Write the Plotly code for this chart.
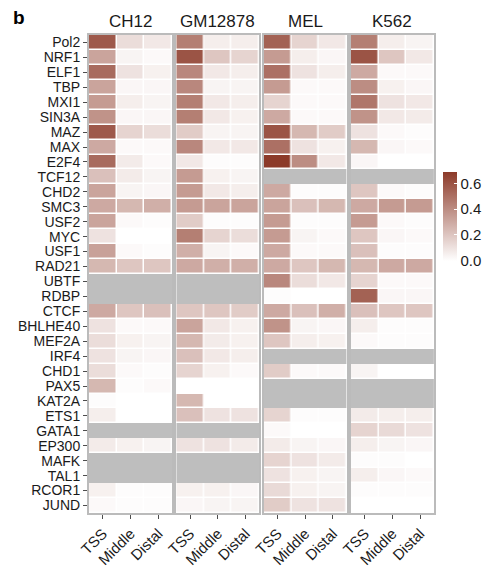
import plotly.graph_objects as go
from plotly.subplots import make_subplots

N = None  # no data for this factor in this cell line

factors = ["Pol2", "NRF1", "ELF1", "TBP", "MXI1", "SIN3A", "MAZ", "MAX", "E2F4",
           "TCF12", "CHD2", "SMC3", "USF2", "MYC", "USF1", "RAD21", "UBTF", "RDBP",
           "CTCF", "BHLHE40", "MEF2A", "IRF4", "CHD1", "PAX5", "KAT2A", "ETS1",
           "GATA1", "EP300", "MAFK", "TAL1", "RCOR1", "JUND"]
regions = ["TSS", "Middle", "Distal"]
cell_lines = ["CH12", "GM12878", "MEL", "K562"]

ch12_tss = [0.58, 0.32, 0.52, 0.32, 0.35, 0.38, 0.58, 0.30, 0.52, 0.22, 0.32, 0.30, 0.32, 0.10, 0.33, 0.25,
            N, N, 0.30, 0.10, 0.12, 0.10, 0.12, 0.25, 0.01, 0.06, N, 0.07, N, N, 0.05, 0.02]
ch12_middle = [0.12, 0.04, 0.10, 0.03, 0.06, 0.03, 0.15, 0.02, 0.07, 0.07, 0.04, 0.25, 0.02, 0.00, 0.02, 0.20,
               N, N, 0.20, 0.02, 0.05, 0.04, 0.02, 0.01, 0.00, 0.00, N, 0.05, N, N, 0.01, 0.01]
ch12_distal = [0.08, 0.02, 0.05, 0.03, 0.04, 0.03, 0.12, 0.02, 0.02, 0.04, 0.03, 0.28, 0.01, 0.00, 0.01, 0.20,
               N, N, 0.22, 0.02, 0.04, 0.03, 0.01, 0.02, 0.00, 0.00, N, 0.04, N, N, 0.01, 0.01]

gm_tss = [0.45, 0.60, 0.42, 0.42, 0.45, 0.45, 0.18, 0.42, 0.08, 0.35, 0.35, 0.35, 0.18, 0.45, 0.28, 0.30,
          N, N, 0.20, 0.32, 0.25, 0.22, 0.15, 0.00, 0.25, 0.22, N, 0.10, N, N, 0.05, 0.03]
gm_middle = [0.06, 0.20, 0.08, 0.04, 0.08, 0.08, 0.04, 0.08, 0.01, 0.05, 0.08, 0.32, 0.01, 0.15, 0.04, 0.28,
             N, N, 0.20, 0.08, 0.07, 0.08, 0.05, 0.00, 0.00, 0.10, N, 0.10, N, N, 0.05, 0.04]
gm_distal = [0.06, 0.15, 0.06, 0.04, 0.06, 0.05, 0.04, 0.08, 0.01, 0.04, 0.06, 0.32, 0.01, 0.12, 0.02, 0.28,
             N, N, 0.18, 0.05, 0.05, 0.06, 0.02, 0.00, 0.00, 0.10, N, 0.07, N, N, 0.03, 0.04]

mel_tss = [0.55, 0.35, 0.50, 0.35, 0.15, 0.30, 0.60, 0.50, 0.69, N, 0.30, 0.32, 0.35, 0.35, 0.30, 0.30,
           0.42, 0.01, 0.30, 0.38, 0.20, N, 0.18, N, N, 0.15, 0.02, 0.07, 0.15, 0.10, 0.13, 0.18]
mel_middle = [0.15, 0.06, 0.10, 0.02, 0.02, 0.02, 0.25, 0.10, 0.40, N, 0.01, 0.22, 0.01, 0.04, 0.02, 0.20,
              0.12, 0.00, 0.22, 0.04, 0.06, N, 0.02, N, N, 0.01, 0.00, 0.04, 0.10, 0.05, 0.05, 0.10]
mel_distal = [0.08, 0.03, 0.06, 0.02, 0.02, 0.02, 0.18, 0.05, 0.08, N, 0.01, 0.25, 0.01, 0.02, 0.02, 0.25,
              0.08, 0.00, 0.28, 0.03, 0.05, N, 0.02, N, N, 0.01, 0.00, 0.03, 0.07, 0.04, 0.04, 0.10]

k562_tss = [0.45, 0.60, 0.30, 0.40, 0.48, 0.38, 0.10, 0.25, 0.03, N, 0.20, 0.30, 0.35, 0.20, 0.22, 0.25,
            0.15, 0.55, 0.22, 0.06, 0.02, N, 0.04, N, N, 0.07, 0.15, 0.06, 0.01, 0.06, 0.01, 0.00]
k562_middle = [0.06, 0.20, 0.02, 0.05, 0.10, 0.08, 0.02, 0.03, 0.00, N, 0.02, 0.35, 0.02, 0.03, 0.01, 0.30,
               0.02, 0.03, 0.20, 0.01, 0.01, N, 0.00, N, N, 0.06, 0.13, 0.04, 0.01, 0.03, 0.01, 0.00]
k562_distal = [0.04, 0.08, 0.02, 0.03, 0.08, 0.07, 0.01, 0.02, 0.00, N, 0.01, 0.35, 0.01, 0.02, 0.01, 0.30,
               0.02, 0.03, 0.20, 0.01, 0.01, N, 0.00, N, N, 0.06, 0.10, 0.03, 0.00, 0.02, 0.01, 0.00]

values = {
    "CH12": [ch12_tss, ch12_middle, ch12_distal],
    "GM12878": [gm_tss, gm_middle, gm_distal],
    "MEL": [mel_tss, mel_middle, mel_distal],
    "K562": [k562_tss, k562_middle, k562_distal],
}

NA_GREY = "#BEBEBE"
FRAME = "#BBBBBB"
TEXT = "#1A1A1A"
FONT = "Liberation Sans, Arial, sans-serif"
ZMAX = 0.69

fig = make_subplots(rows=1, cols=4, shared_yaxes=True, horizontal_spacing=0.012)

for i, cl in enumerate(cell_lines):
    cols = values[cl]
    z = [[cols[j][r] for j in range(len(regions))] for r in range(len(factors))]
    na = [[1 if v is None else None for v in row] for row in z]
    # grey tiles for missing factor/cell-line combinations
    fig.add_trace(go.Heatmap(x=regions, y=factors, z=na, zmin=0, zmax=1,
                             colorscale=[[0, NA_GREY], [1, NA_GREY]], showscale=False,
                             hoverinfo="skip"), row=1, col=i + 1)
    fig.add_trace(go.Heatmap(x=regions, y=factors, z=z, coloraxis="coloraxis",
                             xgap=1.5, ygap=1.5,
                             hovertemplate="%{y} %{x}: %{z}<extra>" + cl + "</extra>"),
                  row=1, col=i + 1)
    fig.add_annotation(text=cl, xref=f"x{'' if i == 0 else i + 1} domain", x=0.5,
                       yref="paper", y=1, yanchor="bottom", yshift=2, showarrow=False,
                       font=dict(size=17, color=TEXT, family=FONT))

fig.add_annotation(text="<b>b</b>", xref="paper", x=-0.225, xanchor="left",
                   yref="paper", y=1.036, yanchor="middle", showarrow=False,
                   font=dict(size=19, color="black", family=FONT))

fig.update_xaxes(showline=True, mirror=True, linecolor=FRAME, linewidth=2,
                 ticks="outside", ticklen=4, tickcolor="#4D4D4D", tickwidth=1,
                 tickmode="array", tickvals=regions, ticktext=regions,
                 tickangle=-45, tickfont=dict(size=15, color=TEXT, family=FONT),
                 showgrid=False, zeroline=False, fixedrange=True)
fig.update_yaxes(showline=True, mirror=True, linecolor=FRAME, linewidth=2,
                 ticks="outside", ticklen=4, tickcolor="#4D4D4D", tickwidth=1,
                 tickmode="array", tickvals=factors, ticktext=factors,
                 categoryorder="array", categoryarray=factors, autorange="reversed",
                 tickfont=dict(size=14, color=TEXT, family=FONT),
                 showgrid=False, zeroline=False, fixedrange=True)
fig.update_yaxes(ticks="", row=1, col=2)
fig.update_yaxes(ticks="", row=1, col=3)
fig.update_yaxes(ticks="", row=1, col=4)

fig.update_layout(
    width=485, height=568,
    margin=dict(l=89, r=51, t=35, b=55, autoexpand=False),
    paper_bgcolor="white", plot_bgcolor="white",
    font=dict(family=FONT, color=TEXT),
    coloraxis=dict(
        cmin=0, cmax=ZMAX,
        colorscale=[[0, "#FFFFFF"], [1, "#8C3A29"]],
        colorbar=dict(
            thickness=14, lenmode="pixels", len=89,
            x=1.025, xanchor="left", y=0.621, yanchor="middle",
            xpad=0, ypad=0, outlinewidth=0,
            ticks="inside", ticklen=3, tickcolor="white",
            tickvals=[0, 0.2, 0.4, 0.6], ticktext=["0.0", "0.2", "0.4", "0.6"],
            tickfont=dict(size=15, color=TEXT, family=FONT),
        ),
    ),
    showlegend=False,
)

fig.write_html("out.html")
